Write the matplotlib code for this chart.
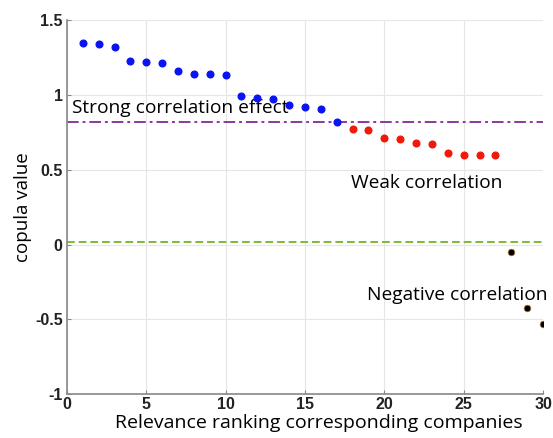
import matplotlib
matplotlib.use("Agg")
import matplotlib.pyplot as plt

rank_strong = list(range(1, 18))
copula_strong = [1.348, 1.342, 1.319, 1.230, 1.217, 1.212, 1.158, 1.138, 1.138, 1.134,
                 0.991, 0.981, 0.974, 0.934, 0.918, 0.909, 0.820]
rank_weak = list(range(18, 28))
copula_weak = [0.773, 0.764, 0.713, 0.707, 0.682, 0.670, 0.613, 0.602, 0.602, 0.600]
rank_neg = [28, 29, 30]
copula_neg = [-0.051, -0.426, -0.530]

strong_threshold = 0.82
zero_threshold = 0.02

x_ticks = [0, 5, 10, 15, 20, 25, 30]
y_ticks = [-1, -0.5, 0, 0.5, 1, 1.5]
y_tick_labels = ["-1", "-0.5", "0", "0.5", "1", "1.5"]

fig = plt.figure(figsize=(5.53, 4.38), dpi=100)
ax = fig.add_axes([0.121, 0.100, 0.861, 0.854])

ax.grid(True, color="#e6e6e6", linewidth=0.8, zorder=0)
ax.axhline(strong_threshold, color="#8a3a9e", linestyle=(0, (6, 2, 1.5, 2)), linewidth=1.4, zorder=2)
ax.axhline(zero_threshold, color="#7dbb35", linestyle=(0, (4, 2)), linewidth=1.4, zorder=2)

ax.plot(rank_strong, copula_strong, "o", color="#0a14f0", markersize=4.8, zorder=5)
ax.plot(rank_weak, copula_weak, "o", color="#f01a0a", markersize=4.8, zorder=5)
ax.plot(rank_neg, copula_neg, "o", color="black", markeredgecolor="#b08020", markeredgewidth=0.5, markersize=4.8, zorder=5)

font = "Open Sans"
ax.text(0.3, 0.855, "Strong correlation effect", fontsize=13.8, family=font, va="bottom", ha="left", zorder=4)
ax.text(17.9, 0.35, "Weak correlation", fontsize=13.8, family=font, va="bottom", ha="left", zorder=4)
ax.text(18.9, -0.40, "Negative correlation", fontsize=13.8, family=font, va="bottom", ha="left", zorder=4)

ax.set_xlim(0, 30)
ax.set_ylim(-1, 1.5)
ax.set_xticks(x_ticks)
ax.set_yticks(y_ticks)
ax.set_yticklabels(y_tick_labels)
for lab in ax.get_xticklabels() + ax.get_yticklabels():
    lab.set_fontweight("bold")
    lab.set_fontsize(11.5)
    lab.set_family("Liberation Sans")
    lab.set_color("#222222")
ax.tick_params(direction="in", length=3, color="#888888", pad=3)
ax.tick_params(axis="x", pad=2)

for s in ["top", "right"]:
    ax.spines[s].set_visible(False)
for s in ["left", "bottom"]:
    ax.spines[s].set_color("#888888")
    ax.spines[s].set_linewidth(1.2)

ax.set_xlabel("Relevance ranking corresponding companies", fontsize=14, family=font)
ax.xaxis.set_label_coords(0.53, -0.052)
ax.set_ylabel("copula value", fontsize=13.5, family=font, labelpad=2)

fig.savefig("out.png", dpi=100)
